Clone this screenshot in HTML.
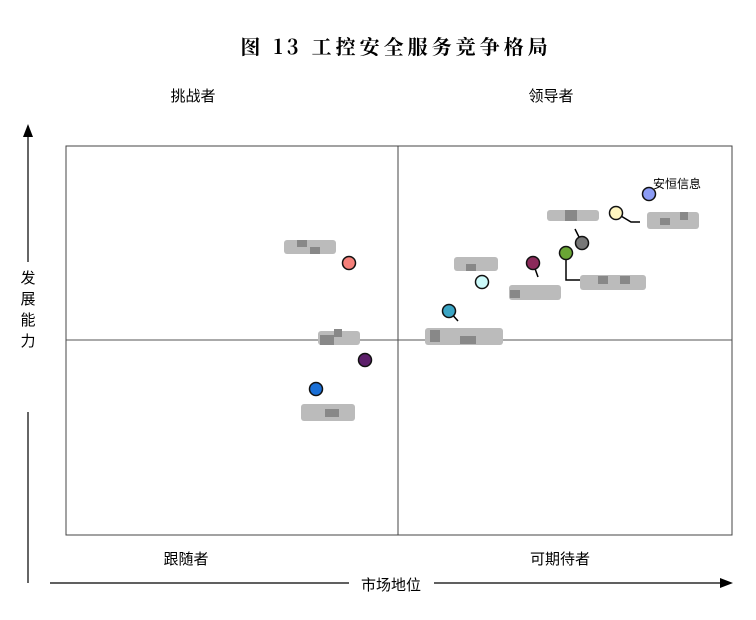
<!DOCTYPE html>
<html><head><meta charset="utf-8"><style>
html,body{margin:0;padding:0;background:#fff;}
svg{display:block;font-family:"Liberation Sans","Noto Sans CJK SC",sans-serif;}
</style></head><body>
<svg width="756" height="620" viewBox="0 0 756 620" xmlns="http://www.w3.org/2000/svg">
<text x="396" y="54" text-anchor="middle" font-size="20" font-weight="bold" font-family="'Noto Serif CJK SC','Noto Sans CJK SC',serif" letter-spacing="4">图 13  工控安全服务竞争格局</text>
<text x="193" y="101" text-anchor="middle" font-size="15">挑战者</text>
<text x="551" y="101" text-anchor="middle" font-size="15">领导者</text>
<text x="186" y="564" text-anchor="middle" font-size="15">跟随者</text>
<text x="560" y="564" text-anchor="middle" font-size="15">可期待者</text>
<text x="391" y="590" text-anchor="middle" font-size="15">市场地位</text>
<g font-size="15" text-anchor="middle"><text x="28" y="283">发</text><text x="28" y="304">展</text><text x="28" y="325">能</text><text x="28" y="346">力</text></g>
<line x1="28" y1="137" x2="28" y2="262" stroke="#000" stroke-width="1.2"/>
<polygon points="28,124 23,137 33,137" fill="#000"/>
<line x1="28" y1="412" x2="28" y2="583" stroke="#000" stroke-width="1.2"/>
<line x1="50" y1="583" x2="349" y2="583" stroke="#000" stroke-width="1.2"/>
<line x1="434" y1="583" x2="720" y2="583" stroke="#000" stroke-width="1.2"/>
<polygon points="733,583 720,578 720,588" fill="#000"/>
<rect x="66" y="146" width="666" height="389" fill="none" stroke="#444" stroke-width="1"/>
<line x1="398" y1="146" x2="398" y2="535" stroke="#444"/>
<line x1="66" y1="340" x2="732" y2="340" stroke="#555"/>
<g fill="#bbb">
<rect x="284" y="240" width="52" height="14" rx="3"/>
<rect x="318" y="331" width="42" height="14" rx="3"/>
<rect x="301" y="404" width="54" height="17" rx="3"/>
<rect x="547" y="210" width="52" height="11" rx="3"/>
<rect x="647" y="212" width="52" height="17" rx="3"/>
<rect x="454" y="257" width="44" height="14" rx="3"/>
<rect x="509" y="285" width="52" height="15" rx="3"/>
<rect x="580" y="275" width="66" height="15" rx="3"/>
<rect x="425" y="328" width="78" height="17" rx="3"/>
</g>
<g fill="#888"><rect x="297" y="240" width="10" height="7"/><rect x="310" y="247" width="10" height="7"/><rect x="565" y="210" width="12" height="11"/><rect x="660" y="218" width="10" height="7"/><rect x="680" y="212" width="8" height="8"/><rect x="466" y="264" width="10" height="7"/><rect x="510" y="290" width="10" height="8"/><rect x="598" y="276" width="10" height="8"/><rect x="620" y="276" width="10" height="8"/><rect x="430" y="330" width="10" height="12"/><rect x="460" y="336" width="16" height="8"/><rect x="320" y="335" width="14" height="10"/><rect x="334" y="329" width="8" height="8"/><rect x="325" y="409" width="14" height="8"/></g>
<g stroke="#000" stroke-width="1.5" fill="none">
<polyline points="616,213 631,222 640,222"/>
<line x1="582" y1="243" x2="575" y2="229"/>
<polyline points="566,253 566,280 580,280"/>
<line x1="533" y1="263" x2="538" y2="277"/>
<line x1="449" y1="311" x2="458" y2="321"/>
</g>
<g stroke="#111" stroke-width="1.5">
<circle cx="649" cy="194" r="6.5" fill="#8c9cf5"/>
<circle cx="616" cy="213" r="6.5" fill="#fff6c0"/>
<circle cx="582" cy="243" r="6.5" fill="#777"/>
<circle cx="566" cy="253" r="6.5" fill="#6aa535"/>
<circle cx="533" cy="263" r="6.5" fill="#8b2a5a"/>
<circle cx="482" cy="282" r="6.5" fill="#ccfafa"/>
<circle cx="449" cy="311" r="6.5" fill="#3ba5c4"/>
<circle cx="349" cy="263" r="6.5" fill="#f5807a"/>
<circle cx="365" cy="360" r="6.5" fill="#5c1f6a"/>
<circle cx="316" cy="389" r="6.5" fill="#1a6fd6"/>
</g>
<text x="653" y="188" font-size="12">安恒信息</text>
</svg>
</body></html>
